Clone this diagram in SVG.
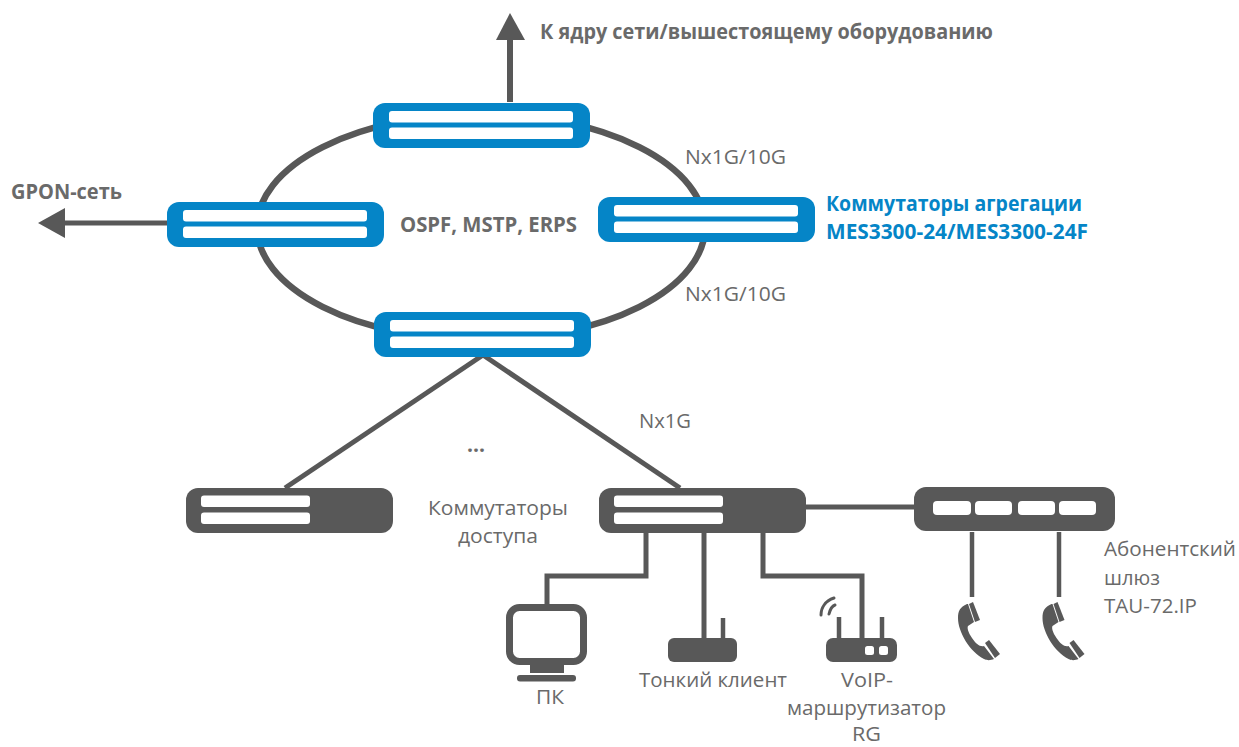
<svg xmlns="http://www.w3.org/2000/svg" width="1239" height="747" viewBox="0 0 1239 747">
<style>
text{font-family:"Open Sans","Noto Sans","Liberation Sans",sans-serif;fill:#6a6a6a;font-size:20.5px}
.b{font-weight:700}
.blue{fill:#0585c7}
.sb{fill:#0585c7}
.sd{fill:#585858}
.w{fill:#fff}
.c{fill:none;stroke:#585858;stroke-width:5}
.t{fill:none;stroke:#585858;stroke-width:4.500}
</style>
<defs>
<g id="sw"><rect x="0" y="0" width="217" height="45" rx="12" /><rect class="w" x="16" y="8" width="184" height="11.500" rx="3"/><rect class="w" x="16" y="24.500" width="184" height="11.500" rx="3"/></g>
<g id="sw2"><rect x="0" y="0" width="207" height="45" rx="12" /><rect class="w" x="15" y="7.500" width="109" height="11.500" rx="3"/><rect class="w" x="15" y="24.500" width="109" height="11.500" rx="3"/></g>
<g id="ph" fill="#585858"><path d="M967 604C960 607 958 611 958 618C958 632 970 652 984 659C988 661 991 660 994 659L984 646C980 647 976 644 972 638C968 632 967 628 968 626L974 622L968 604Z"/><path d="M969 604L973 602L980 620L975 622Z"/><path d="M985 643L989 640L1000 654L995 658Z"/></g>
</defs>
<g id="connectors">
<ellipse cx="481" cy="227" rx="224" ry="113" fill="none" stroke="#585858" stroke-width="6.500"/>
<path d="M510 102V38" fill="none" stroke="#585858" stroke-width="6"/>
<path d="M510 13L525 40H496Z" fill="#585858"/>
<path d="M168 223H60" fill="none" stroke="#585858" stroke-width="5"/>
<path d="M38 223L65 208V238Z" fill="#585858"/>
<path d="M483 355L285 488" class="c"/>
<path d="M483 355L680 488" class="c"/>
<path d="M805 507H916" class="c"/>
<path d="M646 530V576H547V605" class="c"/>
<path d="M704 530V640" class="c"/>
<path d="M763 530V576H862V640" class="c"/>
<path d="M972 532V597" class="t"/>
<path d="M1059 532V597" class="t"/>
</g>
<g id="sw-top" class="sb"><use href="#sw" x="373" y="103"/></g>
<g id="sw-left" class="sb"><use href="#sw" x="167" y="202"/></g>
<g id="sw-right" class="sb"><use href="#sw" x="598" y="197"/></g>
<g id="sw-bottom" class="sb"><use href="#sw" x="374" y="312"/></g>
<g id="access-1" class="sd"><use href="#sw2" x="186" y="488"/></g>
<g id="access-2" class="sd"><use href="#sw2" x="599" y="488"/></g>
<g id="tau" class="sd"><rect x="914" y="487" width="201" height="44" rx="12"/>
<rect class="w" x="933" y="501" width="38" height="14" rx="4"/><rect class="w" x="975" y="501" width="37" height="14" rx="4"/><rect class="w" x="1018" y="501" width="37" height="14" rx="4"/><rect class="w" x="1059" y="501" width="37" height="14" rx="4"/></g>
<g id="pc"><rect x="509.500" y="607.500" width="74" height="54" rx="10" fill="#fff" stroke="#585858" stroke-width="7"/><rect x="530" y="665" width="34" height="8" class="sd"/><rect x="517" y="675" width="59" height="6.500" rx="3" class="sd"/></g>
<g id="thin"><rect x="668" y="638" width="69" height="24" rx="6" class="sd"/><path d="M723 618V640" class="t"/></g>
<g id="router"><rect x="826" y="638" width="71" height="24" rx="7" class="sd"/><path d="M839 617V640M882 617V640" class="t"/><rect class="w" x="865" y="646" width="9" height="9" rx="2.500"/><rect class="w" x="879" y="646" width="9" height="9" rx="2.500"/>
<path d="M821 615C821 608 825 601 834 598M829 614C830 610 832 606 835 605" fill="none" stroke="#585858" stroke-width="3" stroke-linecap="round"/></g>
<g id="phone1"><use href="#ph"/></g>
<g id="phone2"><use href="#ph" x="84.500"/></g>
<g id="labels">
<text class="b" x="540" y="39" textLength="453" lengthAdjust="spacingAndGlyphs">К ядру сети/вышестоящему оборудованию</text>
<text class="b" x="11" y="199" textLength="111" lengthAdjust="spacingAndGlyphs">GPON-сеть</text>
<text class="b" x="400" y="232" textLength="177" lengthAdjust="spacingAndGlyphs">OSPF, MSTP, ERPS</text>
<text x="685" y="164" textLength="101" lengthAdjust="spacingAndGlyphs">Nx1G/10G</text>
<text x="685" y="301" textLength="101" lengthAdjust="spacingAndGlyphs">Nx1G/10G</text>
<text x="639" y="428" textLength="52" lengthAdjust="spacingAndGlyphs">Nx1G</text>
<text class="b blue" x="826" y="211" textLength="256" lengthAdjust="spacingAndGlyphs">Коммутаторы агрегации</text>
<text class="b blue" x="826" y="239" textLength="262" lengthAdjust="spacingAndGlyphs">MES3300-24/MES3300-24F</text>
<text class="b" x="467" y="452" textLength="18" lengthAdjust="spacingAndGlyphs">...</text>
<text x="428" y="515" textLength="140" lengthAdjust="spacingAndGlyphs">Коммутаторы</text>
<text x="458" y="543" textLength="80" lengthAdjust="spacingAndGlyphs">доступа</text>
<text x="1104" y="556" textLength="132" lengthAdjust="spacingAndGlyphs">Абонентский</text>
<text x="1104" y="585" textLength="56" lengthAdjust="spacingAndGlyphs">шлюз</text>
<text x="1104" y="613" textLength="93" lengthAdjust="spacingAndGlyphs">TAU-72.IP</text>
<text x="536" y="704" textLength="28" lengthAdjust="spacingAndGlyphs">ПК</text>
<text x="639" y="687" textLength="148" lengthAdjust="spacingAndGlyphs">Тонкий клиент</text>
<text x="841" y="687" textLength="52" lengthAdjust="spacingAndGlyphs">VoIP-</text>
<text x="787" y="715" textLength="159" lengthAdjust="spacingAndGlyphs">маршрутизатор</text>
<text x="852" y="741" textLength="29" lengthAdjust="spacingAndGlyphs">RG</text>
</g>
</svg>
